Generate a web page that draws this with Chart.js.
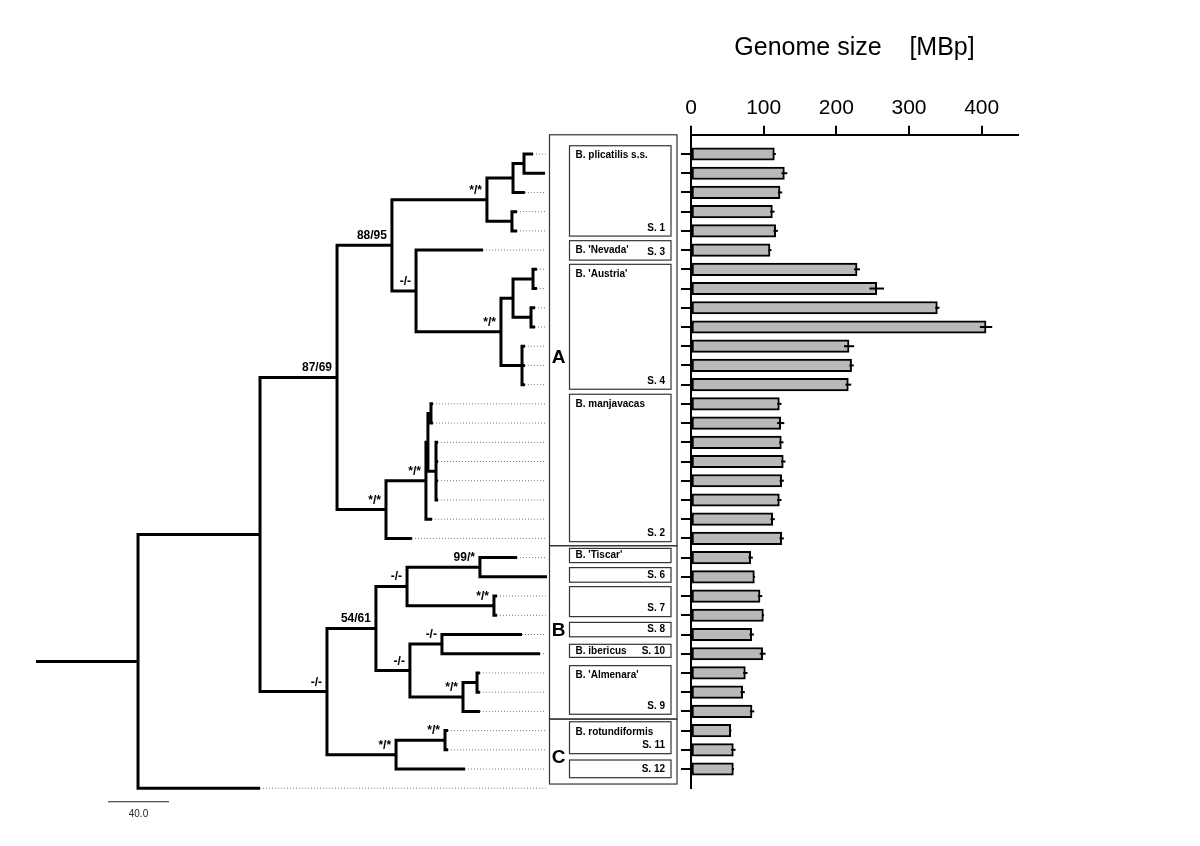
<!DOCTYPE html>
<html>
<head>
<meta charset="utf-8">
<script src="https://cdn.jsdelivr.net/npm/chart.js@4.4.1/dist/chart.umd.min.js"></script>
<style>
  html, body { margin: 0; padding: 0; background: #fff; }
  #wrap { position: relative; width: 1200px; height: 846px; }
  #wrap canvas { position: absolute; left: 0; top: 0; }
</style>
</head>
<body>
<div id="wrap">
  <canvas id="tree" width="1200" height="846"></canvas>
  <canvas id="gs" width="1200" height="846"></canvas>
</div>
<script>
// tree - internal nodes (parent index, depth in branch-length units, support)
const nodeParent = [-1, 0, 1, 2, 3, 4, 5, 4, 3, 8, 9, 10, 10, 9, 2, 14, 15, 16, 16, 1, 19, 20, 21, 21, 20, 24, 24, 26, 19, 28];
const nodeX = [66.9, 146.9, 197.4, 233.4, 295.7, 312.8, 320.0, 312.1, 249.2, 304.9, 312.8, 325.9, 324.6, 318.7, 229.5,
               255.7, 257.0, 259.0, 262.3, 190.8, 222.9, 243.3, 291.1, 300.3, 245.2, 266.2, 280.0, 289.2, 236.1, 268.2];
const nodeSupport = ['', '', '87/69', '88/95', '*/*', '', '', '', '-/-', '*/*', '', '', '', '', '*/*',
                     '*/*', '', '', '', '-/-', '54/61', '-/-', '99/*', '*/*', '-/-', '-/-', '*/*', '', '*/*', '*/*'];
const rootStemX = 0;

// tree - leaves, one per row (last one = outgroup)
const leafParent = [6, 6, 5, 7, 7, 8, 11, 11, 12, 12, 13, 13, 13, 17, 17, 18, 18, 18, 18, 15, 14,
                    22, 22, 23, 23, 25, 25, 27, 27, 26, 29, 29, 28, 0];
const leafX = [325.9, 333.8, 320.6, 315.4, 315.4, 293.1, 328.5, 328.5, 327.2, 327.2, 320.6, 320.6, 320.6,
               260.3, 260.3, 263.6, 263.6, 263.6, 263.6, 259.7, 246.5,
               315.4, 335.1, 302.3, 302.3, 318.7, 330.5, 291.1, 291.1, 291.1, 270.2, 270.2, 281.3, 146.9];
const dotEnd = 334.2;
const scaleBarLen = 40;
const scaleBarStart = 47.2;

// species boxes (rows)
const boxName = ['B. plicatilis s.s.', "B. 'Nevada'", "B. 'Austria'", 'B. manjavacas', "B. 'Tiscar'", '', '', '',
                 'B. ibericus', "B. 'Almenara'", 'B. rotundiformis', ''];
const boxSpecies = ['S. 1', 'S. 3', 'S. 4', 'S. 2', '', 'S. 6', 'S. 7', 'S. 8', 'S. 10', 'S. 9', 'S. 11', 'S. 12'];
const boxTop = [0.57, 5.51, 6.74, 13.50, 21.52, 22.52, 23.51, 25.37, 26.51, 27.62, 30.54, 32.53];
const boxBottom = [5.27, 6.52, 13.24, 21.17, 22.26, 23.28, 25.07, 26.12, 27.19, 30.15, 32.20, 33.45];

// clades
const cladeName = ['A', 'B', 'C'];
const cladeTop = [0, 21.38, 30.40];
const cladeBottom = [21.38, 30.40, 33.78];
const cladeLabelRow = [11.55, 25.77, 32.36];

// genome size [MBp]
const gsValues = [114.7, 128.5, 122.5, 112.0, 116.5, 108.7, 228.5, 255.6, 339.0, 406.0, 217.5, 221.0, 216.5,
                  121.6, 123.4, 124.3, 127.0, 124.8, 121.6, 112.4, 124.8,
                  82.1, 87.2, 95.0, 99.6, 83.5, 98.6, 74.8, 71.1, 84.0, 54.6, 58.3, 58.3];
const gsErr = [2, 4, 3, 3, 3, 2, 4, 10, 3, 8.5, 7, 3, 4, 3, 5, 3, 3, 3, 3, 3, 3, 3, 1, 3, 1, 3, 4, 3, 3, 3, 1, 3, 1];
const gsTicks = [0, 100, 200, 300, 400];

const FONT = '"Liberation Sans", Arial, sans-serif';
Chart.defaults.font.family = FONT;
Chart.defaults.color = '#000';
Chart.defaults.animation = false;

//row layout
const ROW_TOP = 134.78;
const ROW_H = 19.22;
const ROW_MAX = 34;
const padBottom = 846 - (ROW_TOP + ROW_MAX * ROW_H);

//tree - y of nodes (middle of children)
const children = nodeX.map(() => []);
leafParent.forEach((p, i) => children[p].push({leaf: i}));
nodeParent.forEach((p, i) => { if (p >= 0) children[p].push({node: i}); });
const nodeY = [];
function calcNodeY(i) {
    if (nodeY[i] !== undefined) return nodeY[i];
    const ys = children[i].map(c => c.leaf !== undefined ? c.leaf + 1 : calcNodeY(c.node));
    nodeY[i] = (Math.min(...ys) + Math.max(...ys)) / 2;
    return nodeY[i];
}
nodeX.forEach((_, i) => calcNodeY(i));

//tree - branch polylines
const gap = () => ({x: null, y: null});
const branchPts = [{x: rootStemX, y: nodeY[0]}, {x: nodeX[0], y: nodeY[0]}, gap()];
nodeParent.forEach((p, i) => {
    if (p < 0) return;
    branchPts.push({x: nodeX[p], y: nodeY[p]}, {x: nodeX[p], y: nodeY[i]}, {x: nodeX[i], y: nodeY[i]}, gap());
});
leafParent.forEach((p, i) => {
    const r = i + 1;
    branchPts.push({x: nodeX[p], y: nodeY[p]}, {x: nodeX[p], y: r}, {x: leafX[i], y: r}, gap());
});
const dotPts = [];
leafX.forEach((x, i) => {
    if (x < dotEnd - 1) dotPts.push({x, y: i + 1}, {x: dotEnd, y: i + 1}, gap());
});

//tree - labels, boxes, scale bar
const treeDecor = {
    id: 'treeDecor',
    afterDatasetsDraw(chart) {
        const {ctx, scales: {x, y}} = chart;
        ctx.save();
        // support values
        ctx.font = 'bold 12px ' + FONT;
        ctx.fillStyle = '#000';
        ctx.textAlign = 'right';
        ctx.textBaseline = 'alphabetic';
        nodeSupport.forEach((s, i) => {
            if (!s) return;
            ctx.fillText(s, x.getPixelForValue(nodeX[i]) - 5, y.getPixelForValue(nodeY[i]) - 6);
        });

        // clade frame
        const outL = 549.5, outR = 677, inL = 569.5, inR = 671;
        ctx.strokeStyle = '#333';
        ctx.lineWidth = 1.2;
        cladeName.forEach((c, i) => {
            const t = y.getPixelForValue(cladeTop[i]);
            const b = y.getPixelForValue(cladeBottom[i]);
            ctx.strokeRect(outL, t, outR - outL, b - t);
        });
        ctx.font = 'bold 19px ' + FONT;
        ctx.textAlign = 'center';
        ctx.textBaseline = 'middle';
        cladeName.forEach((c, i) => ctx.fillText(c, 558.5, y.getPixelForValue(cladeLabelRow[i]) + 1));

        // species boxes
        ctx.font = 'bold 10px ' + FONT;
        boxName.forEach((n, i) => {
            const t = y.getPixelForValue(boxTop[i]);
            const b = y.getPixelForValue(boxBottom[i]);
            ctx.strokeRect(inL, t, inR - inL, b - t);
            const single = boxBottom[i] - boxTop[i] < 1;
            const ny = single ? (t + b) / 2 : t + 10;
            const sy = single ? (t + b) / 2 : b - 8;
            ctx.textAlign = 'left';
            if (n) ctx.fillText(n, inL + 6, ny);
            ctx.textAlign = 'right';
            if (boxSpecies[i]) ctx.fillText(boxSpecies[i], inR - 6, sy);
        });

        // scale bar
        const sy = y.getPixelForValue(ROW_MAX) + 13.5;
        ctx.strokeStyle = '#222';
        ctx.lineWidth = 1;
        ctx.beginPath();
        ctx.moveTo(x.getPixelForValue(scaleBarStart), sy);
        ctx.lineTo(x.getPixelForValue(scaleBarStart + scaleBarLen), sy);
        ctx.stroke();
        ctx.font = '10px ' + FONT;
        ctx.textAlign = 'center';
        ctx.fillStyle = '#222';
        ctx.fillText(scaleBarLen.toFixed(1), x.getPixelForValue(scaleBarStart + scaleBarLen / 2), sy + 12);
        ctx.restore();
    }
};

const TREE_PX = 1.525; //px per branch unit
const TREE_MAX = 350;
new Chart(document.getElementById('tree'), {
    type: 'scatter',
    data: {
        datasets: [
            {data: dotPts, showLine: true, borderColor: '#777', borderWidth: 1, borderDash: [1, 2],
             pointRadius: 0, clip: false},
            {data: branchPts, showLine: true, borderColor: '#000', borderWidth: 3, borderJoinStyle: 'miter',
             borderCapStyle: 'butt', pointRadius: 0, clip: false}
        ]
    },
    options: {
        responsive: false,
        events: [],
        layout: {padding: {left: 36, right: 1200 - 36 - TREE_MAX * TREE_PX, top: ROW_TOP, bottom: padBottom}},
        plugins: {legend: {display: false}, tooltip: {enabled: false}},
        scales: {
            x: {type: 'linear', min: 0, max: TREE_MAX, display: false},
            y: {type: 'linear', min: 0, max: ROW_MAX, reverse: true, display: false}
        }
    },
    plugins: [treeDecor]
});

//genome size - error bars
const errorBars = {
    id: 'errorBars',
    afterDatasetsDraw(chart) {
        const {ctx, scales: {x, y}} = chart;
        ctx.save();
        ctx.strokeStyle = '#000';
        ctx.lineWidth = 2;
        gsValues.forEach((v, i) => {
            const py = y.getPixelForValue(i + 1);
            ctx.beginPath();
            ctx.moveTo(x.getPixelForValue(v - gsErr[i]), py);
            ctx.lineTo(x.getPixelForValue(v + gsErr[i]), py);
            ctx.stroke();
        });
        ctx.restore();
    }
};

const GS_LEFT = 691;
const GS_RIGHT = 1018;
new Chart(document.getElementById('gs'), {
    type: 'bar',
    data: {
        datasets: [{
            data: gsValues.map((v, i) => ({x: v, y: i + 1})),
            backgroundColor: '#b9b9b9',
            borderColor: '#000',
            borderWidth: 2,
            borderSkipped: false,
            barThickness: 12.5
        }]
    },
    options: {
        indexAxis: 'y',
        responsive: false,
        events: [],
        layout: {padding: {left: 0, right: 1200 - GS_RIGHT, top: 0, bottom: padBottom}},
        plugins: {
            legend: {display: false},
            tooltip: {enabled: false},
            title: {
                display: true,
                text: 'Genome size    [MBp]',
                fullSize: false,
                color: '#000',
                font: {size: 25, weight: 'normal', family: FONT, lineHeight: 1.2},
                padding: {top: 33, bottom: 0}
            }
        },
        scales: {
            x: {
                type: 'linear',
                position: 'top',
                min: 0,
                max: 450,
                afterBuildTicks: s => { s.ticks = gsTicks.map(v => ({value: v})); },
                afterFit: s => { s.height = ROW_TOP - 33 - 30; },
                ticks: {color: '#000', font: {size: 21, family: FONT}, padding: 5, maxRotation: 0},
                grid: {drawOnChartArea: false, color: '#000', lineWidth: 2, tickLength: 9},
                border: {display: true, color: '#000', width: 2}
            },
            y: {
                type: 'linear',
                min: 0,
                max: ROW_MAX,
                reverse: true,
                offset: false,
                afterBuildTicks: s => { s.ticks = gsValues.map((v, i) => ({value: i + 1})); },
                afterFit: s => { s.width = GS_LEFT; },
                ticks: {display: false},
                grid: {offset: false, drawOnChartArea: false, color: '#000', lineWidth: 2, tickLength: 10},
                border: {display: true, color: '#000', width: 2}
            }
        }
    },
    plugins: [errorBars]
});
</script>
</body>
</html>
